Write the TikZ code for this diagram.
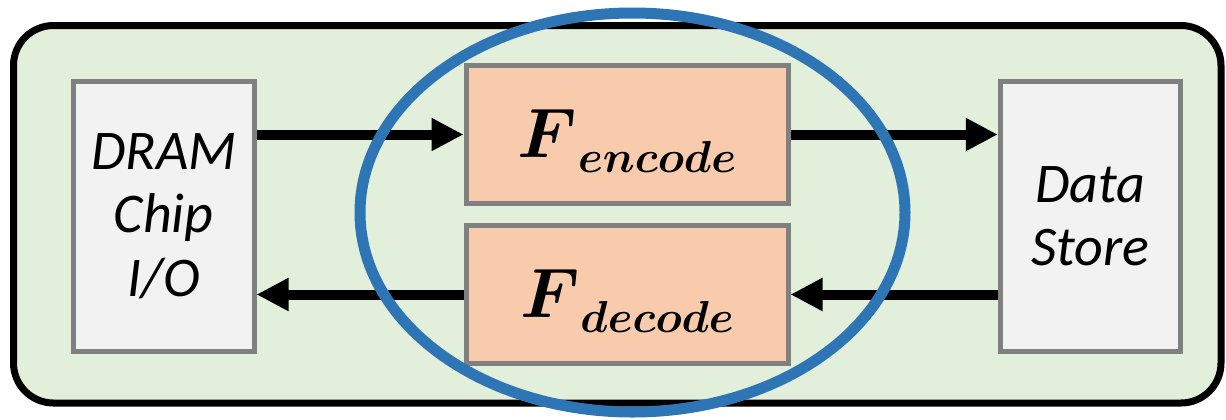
\RequirePackage{fix-cm}
\documentclass[tikz,border=0pt]{standalone}
\usepackage{fontspec}
\setmainfont{Carlito}
\usetikzlibrary{arrows.meta,shapes.geometric}
\definecolor{bggreen}{HTML}{E2EFDA}
\definecolor{boxgray}{HTML}{F2F2F2}
\definecolor{bordergray}{HTML}{808080}
\definecolor{fbox}{HTML}{F8CBAD}
\definecolor{ringblue}{HTML}{2E75B6}
\newcommand{\funclabel}[1]{\raisebox{-11.25pt}[0pt][0pt]{{\fontsize{35}{40}\selectfont$F$}\kern0.5pt\raisebox{-7.5pt}{$\scriptstyle #1$}}}
\begin{document}
\begin{tikzpicture}[x=0.5pt,y=-0.5pt,
  sidebox/.style={draw=bordergray, fill=boxgray, line width=2.5pt,
    minimum width=90.25pt, minimum height=135pt, inner sep=0pt,
    align=center, font=\itshape\fontsize{28}{31.75}\selectfont},
  funcbox/.style={draw=bordergray, fill=fbox, line width=2.5pt,
    minimum width=161pt, minimum height=69pt, inner sep=0pt,
    font=\fontsize{32}{38}\selectfont\boldmath},
  arr/.style={line width=5pt, -{Triangle[length=16pt,width=15.5pt]}}]
\useasboundingbox (0,0) rectangle (1226,419);
\draw[line width=3.5pt, fill=bggreen, rounded corners=20pt] (13.5,25.5) rectangle (1221,403);
\node[sidebox] (dram) at (163.75,216) {DRAM\\Chip\\I/O};
\node[sidebox] (store) at (1090.5,216) {Data\\Store};
\node[funcbox] (enc) at (627,134.5) {\funclabel{encode}};
\node[funcbox] (dec) at (627,294.5) {\funclabel{decode}};
\draw[arr] (dram.east |- enc.west) -- (enc.west);
\draw[arr] (enc.east) -- (store.west |- enc.east);
\draw[arr] (store.west |- dec.east) -- (dec.east);
\draw[arr] (dec.west) -- (dram.east |- dec.west);
\node[ellipse, draw=ringblue, line width=5.5pt, minimum width=272.5pt, minimum height=199.5pt, inner sep=0pt] (ring) at (632.5,212.5) {};
\end{tikzpicture}
\end{document}
